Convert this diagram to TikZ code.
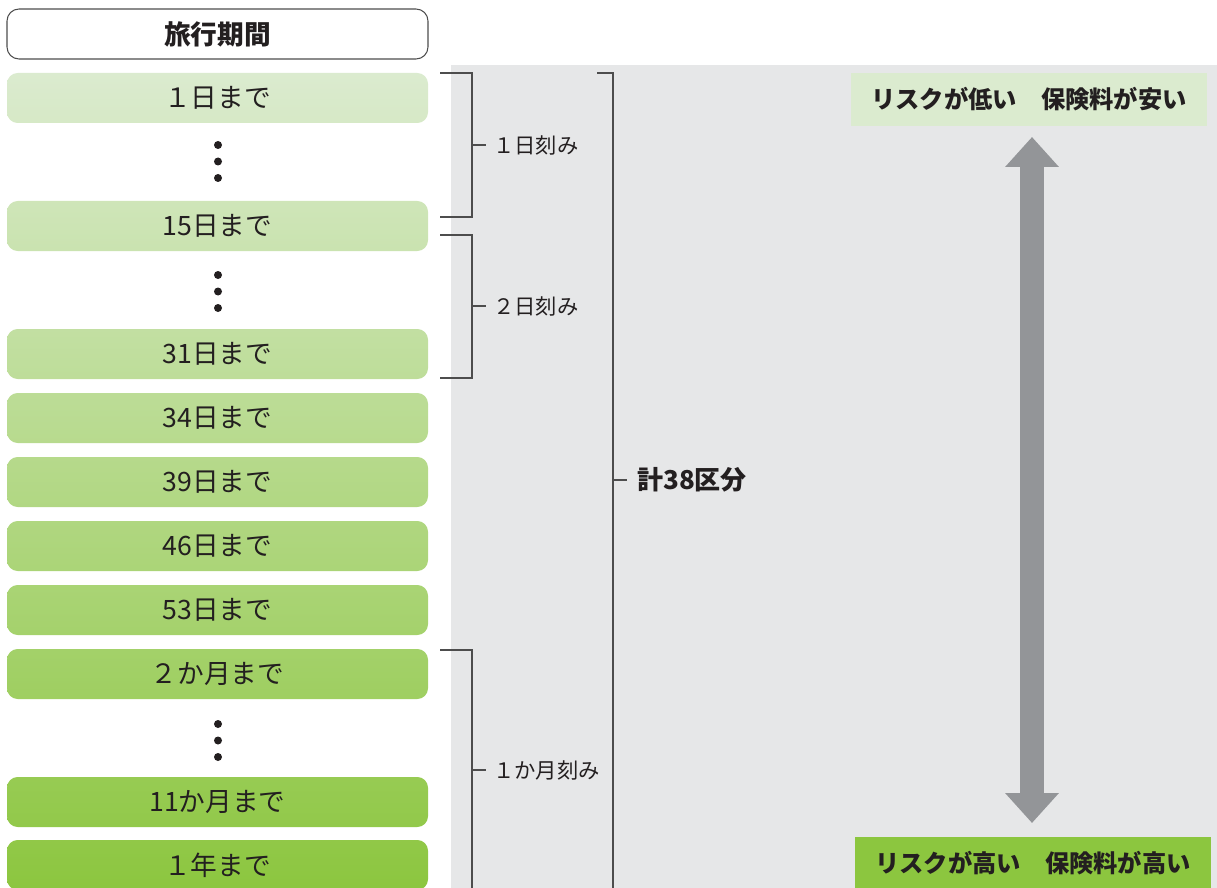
\documentclass[tikz,border=0pt]{standalone}
\usepackage{fontspec}
\setmainfont{Noto Sans CJK JP}
\usetikzlibrary{arrows.meta}
\definecolor{gA}{RGB}{219,235,207}
\definecolor{gB}{RGB}{140,198,63}
\definecolor{panel}{RGB}{230,231,232}
\definecolor{ink}{RGB}{35,31,32}
\definecolor{brk}{RGB}{77,77,77}
\definecolor{arr}{RGB}{147,149,152}
\begin{document}
\begin{tikzpicture}[x=0.75pt,y=-0.75pt,
  gbox/.style={rectangle, rounded corners=8pt, minimum width=315.75pt, minimum height=37.5pt, inner sep=0pt, text=ink, font=\fontsize{20}{23}\selectfont},
  hdr/.style={rectangle, rounded corners=9pt, draw=brk, line width=0.8pt, fill=white, minimum width=315.75pt, minimum height=37.5pt, inner sep=0pt, text=ink, font=\fontsize{20}{23}\selectfont\bfseries},
  bracket/.style={draw=brk, line width=0.9pt},
  steplbl/.style={anchor=west, inner sep=0pt, text=ink, font=\fontsize{16}{19}\selectfont},
  totlbl/.style={anchor=west, inner sep=0pt, text=ink, font=\fontsize{19.5}{22}\selectfont\bfseries},
  risklbl/.style={rectangle, minimum width=267pt, minimum height=39.75pt, inner sep=0pt, text=ink, font=\fontsize{18.2}{21}\selectfont\bfseries},
  bigarr/.style={draw=arr, line width=18pt, {Triangle[width=39pt,length=22.5pt]}-{Triangle[width=39pt,length=22.5pt]}},
  dotc/.style={fill=ink}
]
\useasboundingbox (0,0) rectangle (1217,888);
\clip (0,0) rectangle (1217,888);
% gray panel
\fill[panel] (451,65) rectangle (1217,900);
% header
\node[hdr] (hdr) at (217.5,34) {旅行期間};
% green boxes
\foreach \yt/\txt/\nm in {73/１日まで/b1, 201/15日まで/b2, 329/31日まで/b3, 393/34日まで/b4, 457/39日まで/b5, 521/46日まで/b6, 585/53日まで/b7, 649/２か月まで/b8, 777/11か月まで/b9, 840/１年まで/b10}{
  \pgfmathsetmacro\ta{(\yt-73)/8.17}
  \pgfmathsetmacro\tb{min(100,(\yt+50-73)/8.17)}
  \node[gbox, top color=gB!\ta!gA, bottom color=gB!\tb!gA] (\nm) at (217.5,\yt+25) {\txt};
}
% dots
\foreach \yy in {145,161.5,178, 275,291.5,308, 724,740.5,757}{
  \fill[dotc] (218,\yy) circle (3pt);
}
% brackets
\coordinate (k1t) at (440,73);  \coordinate (k1b) at (440,217);
\coordinate (k2t) at (440,235); \coordinate (k2b) at (440,378);
\coordinate (k3t) at (440,650); \coordinate (k3b) at (472,900);
\coordinate (kTt) at (597,73);  \coordinate (kTb) at (613,900);
\draw[bracket] (k1t) -- (472,73) -- (472,217) -- (k1b);
\draw[bracket] (k2t) -- (472,235) -- (472,378) -- (k2b);
\draw[bracket] (k3t) -- (472,650) -- (k3b);
\draw[bracket] (kTt) -- (613,73) -- (kTb);
\node[steplbl] (s1) at (493,145) {１日刻み};
\node[steplbl] (s2) at (493,306) {２日刻み};
\node[steplbl] (s3) at (493,770) {１か月刻み};
\node[totlbl] (st) at (637,480) {計38区分};
\draw[bracket] (472,145) -- (486,145);
\draw[bracket] (472,306) -- (486,306);
\draw[bracket] (472,770) -- (486,770);
\draw[bracket] (613,480) -- (627,480);
% risk labels
\node[risklbl, fill=gA] (low) at (1029,99.5) {リスクが低い　保険料が安い};
\node[risklbl, fill=gB] (high) at (1033,863.5) {リスクが高い　保険料が高い};
% double arrow
\coordinate (atop) at (1032,137);
\coordinate (abot) at (1032,823);
\draw[bigarr] (atop) -- (abot);
\end{tikzpicture}
\end{document}
